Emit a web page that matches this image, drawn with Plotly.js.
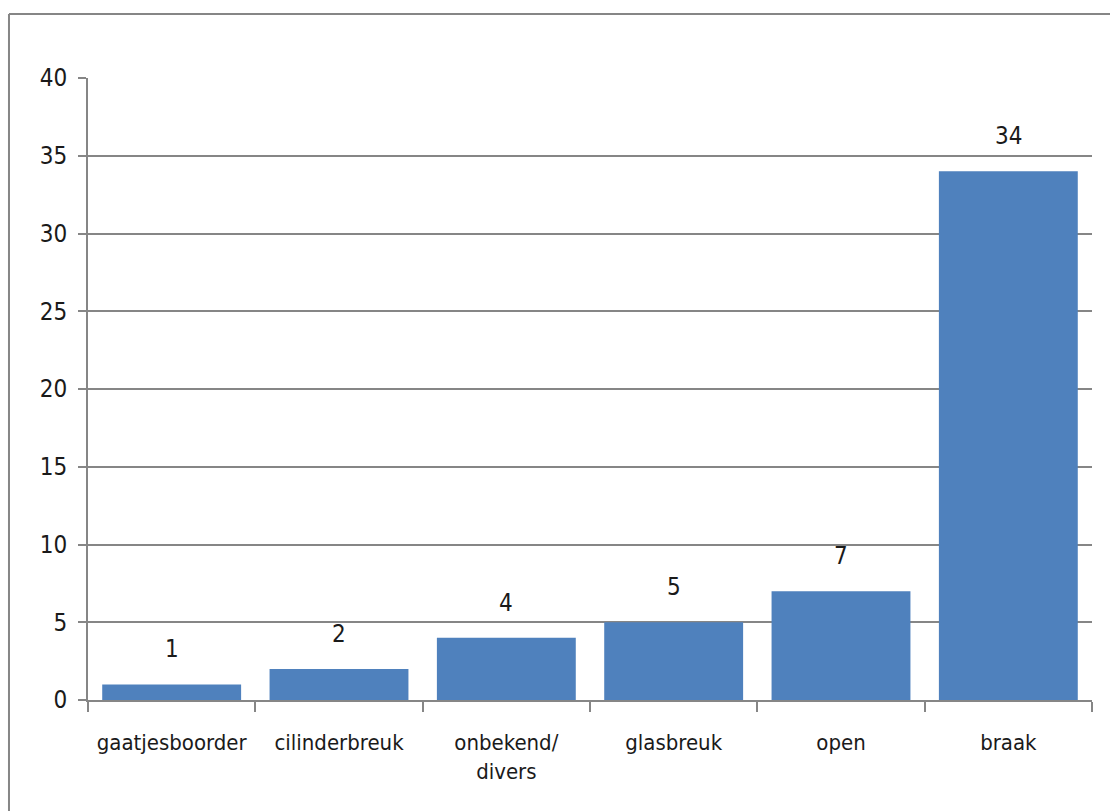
<!DOCTYPE html>
<html>
<head>
<meta charset="utf-8">
<script src="https://cdn.plot.ly/plotly-3.0.1.min.js"></script>
<style>html,body{margin:0;padding:0;background:#fff;}#chart{width:1110px;height:811px;}</style>
</head>
<body>
<div id="chart"></div>
<script>
const categories = ["gaatjesboorder", "cilinderbreuk", "onbekend/<br>divers", "glasbreuk", "open", "braak"];
const values = [1, 2, 4, 5, 7, 34];
const yTicks = [0, 5, 10, 15, 20, 25, 30, 35, 40];

const FONT = "'DejaVu Sans Condensed', 'Liberation Sans Narrow', 'Arial Narrow', sans-serif";
const GRID = "#868686";
const TXT = "#1a1a1a";

const trace = {
  type: "bar",
  x: categories,
  y: values,
  marker: {color: "#4F81BD"},
  hoverinfo: "x+y"
};

const annotations = categories.map((c, i) => ({
  x: c, y: values[i], xref: "x", yref: "y",
  text: String(values[i]), showarrow: false,
  yanchor: "middle", yshift: 35,
  font: {family: FONT, size: 24, color: TXT}
}));

const layout = {
  width: 1110, height: 811,
  margin: {l: 88, r: 18, t: 78, b: 111},
  paper_bgcolor: "#fff", plot_bgcolor: "#fff",
  showlegend: false,
  bargap: 0.17,
  font: {family: FONT, size: 22, color: TXT},
  xaxis: {
    type: "category",
    tickangle: 0,
    showline: true, linecolor: GRID, linewidth: 2,
    ticks: "outside", tickson: "boundaries", ticklen: 10, tickcolor: GRID, tickwidth: 2,
    tickfont: {family: FONT, size: 22, color: TXT},
    showgrid: false, zeroline: false,
    ticklabelstandoff: 22
  },
  yaxis: {
    range: [0, 40],
    tickvals: yTicks, ticktext: yTicks.map(String),
    showline: true, linecolor: GRID, linewidth: 2,
    ticks: "outside", ticklen: 8, tickcolor: GRID, tickwidth: 2,
    showgrid: true, gridcolor: GRID, gridwidth: 2,
    zeroline: false,
    tickfont: {family: FONT, size: 24, color: TXT},
    ticklabelstandoff: 6
  },
  annotations: annotations,
  shapes: [
    {type: "line", xref: "paper", yref: "paper", x0: -0.0787, x1: -0.0787, y0: 1.1029, y1: -0.3, line: {color: GRID, width: 2}},
    {type: "line", xref: "paper", yref: "paper", x0: -0.0787, x1: 1.1, y0: 1.1029, y1: 1.1029, line: {color: GRID, width: 2}}
  ]
};

Plotly.newPlot("chart", [trace], layout, {displayModeBar: false, staticPlot: true});
</script>
</body>
</html>
